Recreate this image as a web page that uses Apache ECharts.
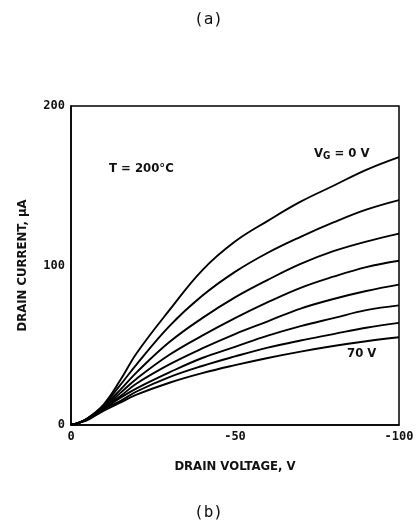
<!DOCTYPE html>
<html>
<head>
<meta charset="utf-8">
<script src="https://cdn.jsdelivr.net/npm/echarts@6/dist/echarts.min.js"></script>
<style>
  html, body { margin: 0; padding: 0; background: #fff; }
  #main { width: 417px; height: 529px; }
</style>
</head>
<body>
<div id="main"></div>
<script>
// drain voltage (V)
var voltage = [0, -2.5, -5, -10, -15, -20, -30, -40, -50, -60, -70, -80, -90, -100];
// gate voltages for each curve
var gateLabels = ['0 V', '10 V', '20 V', '30 V', '40 V', '50 V', '60 V', '70 V'];
// drain current (uA), one array per gate voltage
var iVg0  = [0, 1.5, 4, 13, 28, 45, 72, 97, 115, 128, 140, 150, 160, 168];
var iVg10 = [0, 1.5, 4, 12.5, 25, 38, 62, 81, 96, 108, 118, 127, 135, 141];
var iVg20 = [0, 1.5, 4, 12, 22, 33, 52, 67, 80, 91, 101, 109, 115, 120];
var iVg30 = [0, 1.5, 4, 11, 20, 29, 44, 56, 67, 77, 86, 93, 99, 103];
var iVg40 = [0, 1.5, 3.5, 11, 18, 26, 38, 48, 57, 65, 73, 79, 84, 88];
var iVg50 = [0, 1.5, 3.5, 10, 17, 23, 33, 42, 49, 56, 62, 67, 72, 75];
var iVg60 = [0, 1.5, 3.5, 10, 15, 21, 30, 37, 43, 48.5, 53, 57, 61, 64];
var iVg70 = [0, 1.5, 3, 9, 14, 19, 26.5, 32.5, 37.5, 42, 46, 49.5, 52.5, 55];
var curves = [iVg0, iVg10, iVg20, iVg30, iVg40, iVg50, iVg60, iVg70];

var myChart = echarts.init(document.getElementById('main'));

var series = curves.map(function (vals, k) {
	return {
		name: gateLabels[k],
		type: 'line',
		smooth: 0.4,
		showSymbol: false,
		silent: true,
		lineStyle: { color: '#000', width: 1.9 },
		data: voltage.map(function (v, i) { return [v, vals[i]]; })
	};
});

myChart.setOption({
	animation: false,
	backgroundColor: '#fff',
	grid: {
		left: 71, right: 18, top: 106, bottom: 104,
		show: true,
		borderColor: '#000',
		borderWidth: 1.5
	},
	xAxis: {
		type: 'value',
		min: -100, max: 0, interval: 50,
		inverse: true,
		name: 'DRAIN VOLTAGE, V',
		nameLocation: 'middle',
		nameGap: 35,
		nameTextStyle: { fontFamily: 'DejaVu Sans Condensed', fontWeight: 'bold', fontSize: 13, color: '#111' },
		axisLine: { show: true, lineStyle: { color: '#000', width: 1.5 } },
		axisTick: { show: false },
		splitLine: { show: false },
		axisLabel: { fontFamily: 'DejaVu Sans Mono', fontWeight: 'bold', fontSize: 12, color: '#111', margin: 6 }
	},
	yAxis: {
		type: 'value',
		min: 0, max: 200, interval: 100,
		name: 'DRAIN CURRENT, \u03bcA',
		nameLocation: 'middle',
		nameGap: 42,
		nameTextStyle: { fontFamily: 'DejaVu Sans Condensed', fontWeight: 'bold', fontSize: 13, color: '#111' },
		axisLine: { show: true, lineStyle: { color: '#000', width: 1.5 } },
		axisTick: { show: false },
		splitLine: { show: false },
		axisLabel: { fontFamily: 'DejaVu Sans Mono', fontWeight: 'bold', fontSize: 12, color: '#111', margin: 6 }
	},
	graphic: [
		{ type: 'text', left: 'center', top: 12,
		  style: { text: '(a)', font: '16px "DejaVu Sans Mono"', fill: '#111' } },
		{ type: 'text', left: 'center', top: 505,
		  style: { text: '(b)', font: '16px "DejaVu Sans Mono"', fill: '#111' } },
		{ type: 'text', left: 109, top: 162,
		  style: { text: 'T = 200\u00b0C', font: 'bold 13px "DejaVu Sans Condensed"', fill: '#111' } },
		{ type: 'text', left: 314, top: 147,
		  style: {
			text: '{v|V}{s|G}{v| = 0 V}',
			rich: {
				v: { font: 'bold 13px "DejaVu Sans Condensed"', fill: '#111' },
				s: { font: 'bold 10px "DejaVu Sans Condensed"', fill: '#111', verticalAlign: 'bottom', padding: [6, 0, 0, 0] }
			}
		  } },
		{ type: 'text', left: 347, top: 347,
		  style: { text: '70 V', font: 'bold 13px "DejaVu Sans Condensed"', fill: '#111' } }
	],
	series: series
});
</script>
</body>
</html>
